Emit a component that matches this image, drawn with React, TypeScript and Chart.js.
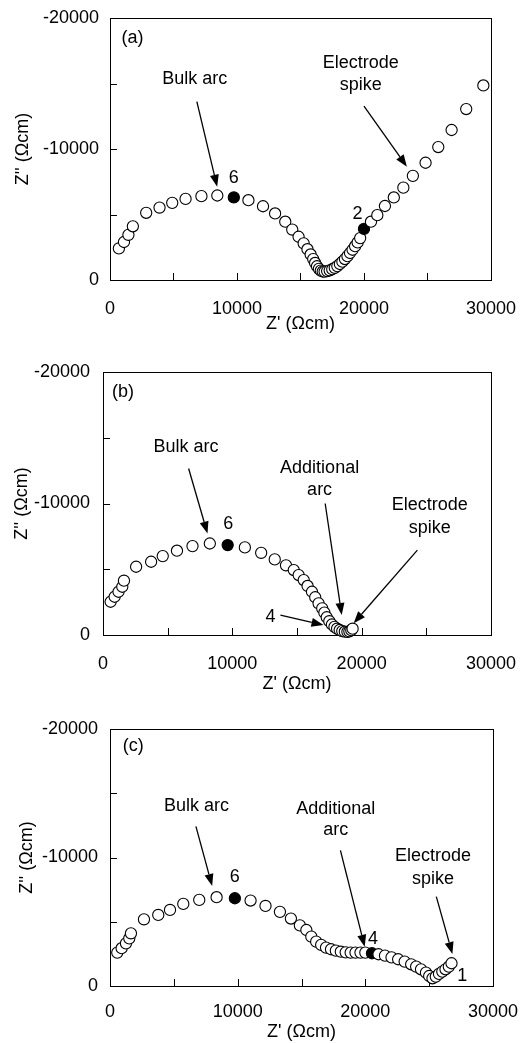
import React, { useEffect, useRef } from 'react';
import { Chart, registerables } from 'chart.js';

Chart.register(...registerables);

const FONT = "'Liberation Sans', Arial, Helvetica, sans-serif";

// Shared axes
const xMin = 0;
const xMax = 30000;
const yMin = -20000;
const yMax = 0;
const tickStep = 5000;
const xTickLabels = [0, 10000, 20000, 30000];
const yTickLabels = [-20000, -10000, 0];
const xTitle = "Z' (Ωcm)";
const yTitle = "Z'' (Ωcm)";

// Panel (a)
const aZre = [700, 1100, 1450, 1800, 2850, 3900, 4900, 5950, 7200, 8450, 9750, 10900, 12050, 13000, 13800, 14350, 14850, 15250, 15550, 15800, 16000, 16150, 16300, 16450, 16600, 16750, 16900, 17100, 17300, 17500, 17700, 17900, 18100, 18300, 18500, 18700, 18900, 19100, 19300, 19500, 19700, 20000, 20550, 21050, 21650, 22350, 23100, 23850, 24850, 25850, 26900, 28050, 29400];
const aZim = [-2410, -2900, -3450, -4100, -5130, -5530, -5890, -6190, -6400, -6450, -6300, -6090, -5630, -5080, -4450, -3850, -3300, -2800, -2350, -1950, -1600, -1300, -1050, -850, -720, -650, -640, -680, -740, -820, -930, -1060, -1220, -1400, -1600, -1820, -2060, -2310, -2580, -2870, -3200, -3900, -4450, -4950, -5650, -6300, -7050, -7950, -8950, -10150, -11450, -13050, -14850];
const aMarked = [10, 41];
const aNotes = [
  { text: '(a)', x: 1770, y: -18500 },
  { text: 'Bulk arc', x: 6680, y: -15340 },
  { text: '6', x: 9740, y: -7810 },
  { text: 'Electrode', x: 19740, y: -16590 },
  { text: 'spike', x: 19740, y: -14890 },
  { text: '2', x: 19490, y: -5040 },
];
const aArrows = [
  { x1: 6840, y1: -13610, x2: 8440, y2: -7120 },
  { x1: 20000, y1: -13280, x2: 23380, y2: -8650 },
];

// Panel (b)
const bZre = [590, 900, 1200, 1490, 1620, 2560, 3720, 4620, 5720, 6920, 8260, 9640, 10970, 12230, 13280, 14150, 14750, 15130, 15520, 15820, 16160, 16410, 16670, 16950, 17120, 17300, 17500, 17700, 17900, 18100, 18300, 18500, 18700, 18900, 19050, 19200, 19300];
const bZim = [-2530, -2910, -3290, -3670, -4130, -5190, -5570, -6000, -6410, -6760, -6960, -6840, -6660, -6250, -5750, -5300, -4940, -4560, -4180, -3730, -3290, -2870, -2410, -2030, -1700, -1350, -1050, -800, -620, -480, -380, -300, -250, -240, -280, -360, -480];
const bMarked = [11];
const bNotes = [
  { text: '(b)', x: 1540, y: -18470 },
  { text: 'Bulk arc', x: 6420, y: -14300 },
  { text: '6', x: 9690, y: -8430 },
  { text: 'Additional', x: 16750, y: -12660 },
  { text: 'arc', x: 16750, y: -11010 },
  { text: 'Electrode', x: 25260, y: -9870 },
  { text: 'spike', x: 25260, y: -8100 },
  { text: '4', x: 12950, y: -1390 },
];
const bArrows = [
  { x1: 6620, y1: -12660, x2: 8080, y2: -7720 },
  { x1: 17180, y1: -10000, x2: 18460, y2: -1520 },
  { x1: 24310, y1: -6450, x2: 19380, y2: -890 },
  { x1: 13720, y1: -1520, x2: 17050, y2: -760 },
];

// Panel (c)
const cZre = [570, 910, 1250, 1510, 1640, 2660, 3780, 4700, 5740, 6990, 8350, 9780, 11010, 12180, 13310, 14170, 14870, 15380, 15770, 16150, 16540, 16920, 17310, 17690, 18080, 18460, 18850, 19230, 19620, 20000, 20520, 21030, 21540, 22050, 22570, 23080, 23590, 23980, 24360, 24750, 25000, 25260, 25520, 25770, 26030, 26280, 26540, 26750];
const cZim = [-2600, -2940, -3320, -3710, -4100, -5190, -5530, -5920, -6390, -6700, -6910, -6830, -6650, -6230, -5770, -5250, -4720, -4360, -3840, -3450, -3200, -2990, -2860, -2750, -2670, -2620, -2600, -2600, -2600, -2600, -2550, -2470, -2360, -2230, -2080, -1900, -1690, -1510, -1300, -1040, -780, -600, -730, -940, -1120, -1300, -1510, -1770];
const cMarked = [11, 30];
const cNotes = [
  { text: '(c)', x: 1820, y: -18650 },
  { text: 'Bulk arc', x: 6780, y: -14030 },
  { text: '6', x: 9780, y: -8470 },
  { text: 'Additional', x: 17680, y: -13770 },
  { text: 'arc', x: 17680, y: -12100 },
  { text: '4', x: 20600, y: -3640 },
  { text: 'Electrode', x: 25300, y: -10130 },
  { text: 'spike', x: 25300, y: -8360 },
  { text: '1', x: 27600, y: -780 },
];
const cArrows = [
  { x1: 6730, y1: -12420, x2: 8000, y2: -7790 },
  { x1: 18050, y1: -10550, x2: 19950, y2: -3060 },
  { x1: 25560, y1: -6960, x2: 26820, y2: -2490 },
];

type Note = { text: string; x: number; y: number };
type Arrow = { x1: number; y1: number; x2: number; y2: number };
type PanelDef = {
  zre: number[];
  zim: number[];
  marked: number[];
  notes: Note[];
  arrows: Arrow[];
  height: number;
  padTop: number;
  padRight: number;
  yWidth: number;
  xHeight: number;
  xTickPad: number;
  xTitlePad: number;
  yTickPad: number;
  yTitlePad: number;
};

const panels: PanelDef[] = [
  { zre: aZre, zim: aZim, marked: aMarked, notes: aNotes, arrows: aArrows, height: 345, padTop: 18, padRight: 31, yWidth: 110, xHeight: 65, xTickPad: 10, xTitlePad: 10, yTickPad: 3, yTitlePad: 12 },
  { zre: bZre, zim: bZim, marked: bMarked, notes: bNotes, arrows: bArrows, height: 355, padTop: 27, padRight: 33, yWidth: 103, xHeight: 65, xTickPad: 10, xTitlePad: 5, yTickPad: 5, yTitlePad: 11 },
  { zre: cZre, zim: cZim, marked: cMarked, notes: cNotes, arrows: cArrows, height: 343, padTop: 29, padRight: 33, yWidth: 110, xHeight: 57, xTickPad: 7, xTitlePad: 0, yTickPad: 4, yTitlePad: 16 },
];

const frameTicks = {
  id: 'frameTicks',
  beforeDatasetsDraw(chart: any) {
    const { ctx, chartArea: a, scales } = chart;
    const x = scales.x;
    const y = scales.y;
    ctx.save();
    ctx.strokeStyle = '#000';
    ctx.lineWidth = 1;
    ctx.strokeRect(Math.round(a.left) + 0.5, Math.round(a.top) + 0.5, Math.round(a.right - a.left), Math.round(a.bottom - a.top));
    ctx.beginPath();
    x.ticks.forEach((t: any) => {
      const px = Math.round(x.getPixelForValue(t.value)) + 0.5;
      ctx.moveTo(px, a.bottom);
      ctx.lineTo(px, a.bottom - 7);
    });
    y.ticks.forEach((t: any) => {
      const py = Math.round(y.getPixelForValue(t.value)) + 0.5;
      ctx.moveTo(a.left, py);
      ctx.lineTo(a.left + 7, py);
    });
    ctx.stroke();
    ctx.restore();
  },
};

function makeNotesPlugin(notes: Note[], arrows: Arrow[]) {
  return {
    id: 'notes',
    afterDatasetsDraw(chart: any) {
      const { ctx, scales } = chart;
      const x = scales.x;
      const y = scales.y;
      ctx.save();
      ctx.fillStyle = '#000';
      ctx.strokeStyle = '#000';
      ctx.lineWidth = 1.3;
      ctx.font = `18px ${FONT}`;
      ctx.textAlign = 'center';
      ctx.textBaseline = 'middle';
      notes.forEach((n) => {
        ctx.fillText(n.text, x.getPixelForValue(n.x), y.getPixelForValue(n.y));
      });
      arrows.forEach((r) => {
        const x1 = x.getPixelForValue(r.x1);
        const y1 = y.getPixelForValue(r.y1);
        const x2 = x.getPixelForValue(r.x2);
        const y2 = y.getPixelForValue(r.y2);
        const ang = Math.atan2(y2 - y1, x2 - x1);
        const L = 12;
        const W = 4.5;
        const bx = x2 - L * Math.cos(ang);
        const by = y2 - L * Math.sin(ang);
        ctx.beginPath();
        ctx.moveTo(x1, y1);
        ctx.lineTo(bx, by);
        ctx.stroke();
        ctx.beginPath();
        ctx.moveTo(x2, y2);
        ctx.lineTo(bx + W * Math.sin(ang), by - W * Math.cos(ang));
        ctx.lineTo(bx - W * Math.sin(ang), by + W * Math.cos(ang));
        ctx.closePath();
        ctx.fill();
      });
      ctx.restore();
    },
  };
}

function Panel({ p }: { p: PanelDef }) {
  const ref = useRef<HTMLCanvasElement | null>(null);
  useEffect(() => {
    if (!ref.current) return;
    const points = p.zre.map((v, i) => ({ x: v, y: p.zim[i] }));
    const font = { family: FONT, size: 18 };
    const chart = new Chart(ref.current, {
      type: 'scatter',
      data: {
        datasets: [
          {
            data: points,
            showLine: false,
            pointRadius: 5.6,
            pointBorderWidth: 1.1,
            pointBorderColor: '#000',
            pointBackgroundColor: (ctx: any) => (p.marked.includes(ctx.dataIndex) ? '#000' : '#fff'),
            clip: false as any,
          },
        ],
      },
      options: {
        animation: false,
        responsive: false,
        devicePixelRatio: 1,
        events: [],
        layout: { padding: { top: p.padTop, right: p.padRight, left: 0, bottom: 0 } },
        plugins: { legend: { display: false }, tooltip: { enabled: false } },
        scales: {
          x: {
            type: 'linear',
            min: xMin,
            max: xMax,
            grid: { display: false },
            border: { display: false },
            ticks: {
              stepSize: tickStep,
              autoSkip: false,
              maxRotation: 0,
              padding: p.xTickPad,
              color: '#000',
              font,
              callback: (v: any) => (xTickLabels.includes(Number(v)) ? String(v) : ''),
            },
            title: { display: true, text: xTitle, color: '#000', font, padding: { top: 0, bottom: p.xTitlePad } },
            afterFit: (s: any) => {
              s.height = p.xHeight;
            },
          },
          y: {
            type: 'linear',
            min: yMin,
            max: yMax,
            reverse: true,
            grid: { display: false },
            border: { display: false },
            ticks: {
              stepSize: tickStep,
              autoSkip: false,
              padding: p.yTickPad,
              color: '#000',
              font,
              callback: (v: any) => (yTickLabels.includes(Number(v)) ? String(v) : ''),
            },
            title: { display: true, text: yTitle, color: '#000', font, padding: { top: p.yTitlePad, bottom: 0 } },
            afterFit: (s: any) => {
              s.width = p.yWidth;
            },
          },
        },
      } as any,
      plugins: [frameTicks, makeNotesPlugin(p.notes, p.arrows)],
    });
    return () => chart.destroy();
  }, [p]);
  return <canvas ref={ref} width={526} height={p.height} style={{ display: 'block' }} />;
}

export default function App() {
  return (
    <div style={{ position: 'absolute', left: 0, top: 0, width: 526, background: '#fff' }}>
      {panels.map((p, i) => (
        <Panel key={i} p={p} />
      ))}
    </div>
  );
}
